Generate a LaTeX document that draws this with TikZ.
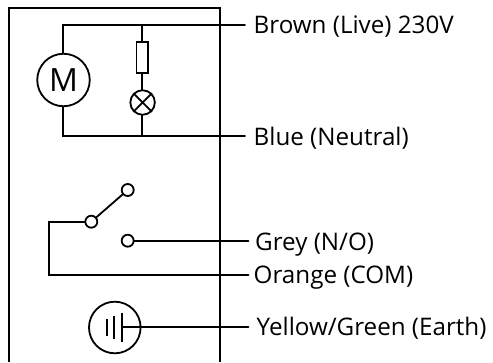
\documentclass[tikz,border=0pt]{standalone}
\usepackage{fontspec}
\setmainfont{Open Sans}
\tikzset{
  wire/.style={line width=1.8pt,line cap=round,line join=miter},
  sym/.style={draw,circle,line width=1.8pt,inner sep=0pt,fill=white},
  term/.style={sym,minimum size=12pt},
  lbl/.style={anchor=base west,inner sep=0pt,font=\fontsize{24.2pt}{26pt}\selectfont,text=black},
}
\begin{document}
\begin{tikzpicture}[x=1pt,y=-1pt]
\useasboundingbox (0,0) rectangle (493,362);
% enclosure
\draw[wire,line cap=butt] (9.3,362) -- (9.3,8.3) -- (220,8.3) -- (220,362);
% coordinates
\coordinate (tl) at (63,25);
\coordinate (bl) at (63,136);
\coordinate (tm) at (142.3,25);
\coordinate (bm) at (142.3,136);
\coordinate (tr) at (245,25);
\coordinate (br) at (245,136);
\coordinate (sw1) at (49.3,221.7);
\coordinate (sw2) at (49.3,275);
\coordinate (orr) at (248.5,275);
\coordinate (gyr) at (248.5,240.7);
\coordinate (ear) at (248.5,327);
% mains wires
\draw[wire] (tr) -- (tl) -- (bl) -- (br);
\draw[wire] (tm) -- (bm);
% components
\node[sym,minimum size=52.5pt,font=\fontsize{32pt}{34pt}\selectfont] (motor) at (63.5,80) {M};
\node[draw,fill=white,line width=1.8pt,minimum width=11.6pt,minimum height=31.3pt,inner sep=0pt] (res) at (142.3,57.6) {};
\node[sym,minimum size=24.5pt] (lamp) at (142.6,102.5) {};
\draw[wire,line cap=butt] (lamp.north west) -- (lamp.south east);
\draw[wire,line cap=butt] (lamp.north east) -- (lamp.south west);
% switch
\node[term] (com) at (91.3,221.7) {};
\node[term] (top) at (127.7,190) {};
\node[term] (no) at (127.7,240.7) {};
\draw[wire] (com) -- (top);
\draw[wire] (com.west) -- (sw1) -- (sw2) -- (orr);
\draw[wire] (no.east) -- (gyr);
% earth
\node[sym,minimum size=51.6pt,fill=none] (earth) at (114.8,327.5) {};
\coordinate (b1) at (122.3,327);
\draw[wire] (b1) -- (ear);
\draw[wire,line cap=butt] (122.3,313) -- (122.3,342);
\draw[wire,line cap=butt] (114.3,315.7) -- (114.3,339);
\draw[wire,line cap=butt] (107.3,319) -- (107.3,335.7);
% labels
\node[lbl] (l1) at (253.5,33) {Brown (Live) 230V};
\node[lbl] (l2) at (253.5,145) {Blue (Neutral)};
\node[lbl] (l3) at (255,250) {Grey (N/O)};
\node[lbl] (l4) at (253.5,283.3) {Orange (COM)};
\node[lbl] (l5) at (256.5,335) {Yellow/Green (Earth)};
\end{tikzpicture}
\end{document}
